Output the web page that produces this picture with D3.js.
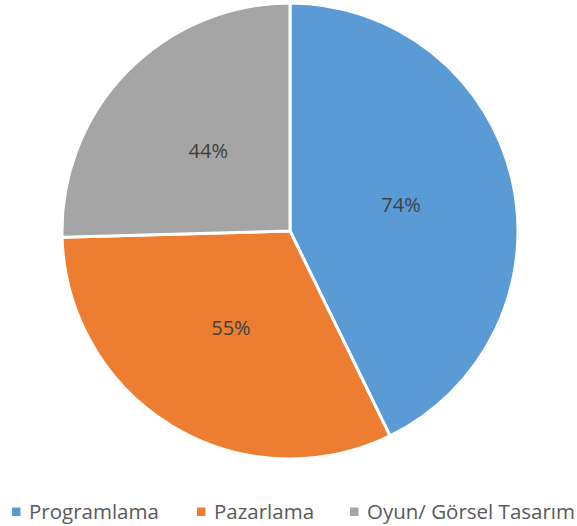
<!DOCTYPE html>
<html>
<head>
<meta charset="utf-8">
<script src="https://cdn.jsdelivr.net/npm/d3@7"></script>
<style>
  body { margin: 0; background: #fff; }
  text { font-family: "Open Sans", "Liberation Sans", sans-serif; }
</style>
</head>
<body>
<script>
const categories = ["Programlama", "Pazarlama", "Oyun/ Görsel Tasarım"];
const values = [74, 55, 44];
const colors = ["#5B9BD5", "#ED7D31", "#A5A5A5"];

const width = 577, height = 526;
const cx = 290, cy = 231, radius = 228;

const data = categories.map((c, i) => ({name: c, value: values[i], color: colors[i]}));

const svg = d3.select("body").append("svg")
    .attr("width", width)
    .attr("height", height);

const pie = d3.pie().sort(null).value(d => d.value);
const arc = d3.arc().innerRadius(0).outerRadius(radius);

const g = svg.append("g").attr("transform", `translate(${cx},${cy})`);
const arcs = pie(data);

g.selectAll("path")
  .data(arcs)
  .join("path")
  .attr("d", arc)
  .attr("fill", d => d.data.color)
  .attr("stroke", "#fff")
  .attr("stroke-width", 3)
  .attr("stroke-linejoin", "round");

g.selectAll("text.lbl")
  .data(arcs)
  .join("text")
  .attr("class", "lbl")
  .attr("transform", d => `translate(${arc.centroid(d)})`)
  .attr("text-anchor", "middle")
  .attr("dy", "0.35em")
  .attr("font-size", 20)
  .attr("fill", "#404040")
  .text(d => d.data.value + "%");

// legend (x of each swatch)
const legendX = [12, 197, 350];
const legend = svg.append("g").attr("transform", "translate(0,512)");
const item = legend.selectAll("g")
  .data(data)
  .join("g")
  .attr("transform", (d, i) => `translate(${legendX[i]},0)`);

item.append("rect")
  .attr("x", 0).attr("y", -4.5)
  .attr("width", 8.5).attr("height", 8.5)
  .attr("fill", d => d.color);

item.append("text")
  .attr("x", 17)
  .attr("dy", "0.35em")
  .attr("font-size", 20.5)
  .attr("fill", "#595959")
  .text(d => d.name);
</script>
</body>
</html>
